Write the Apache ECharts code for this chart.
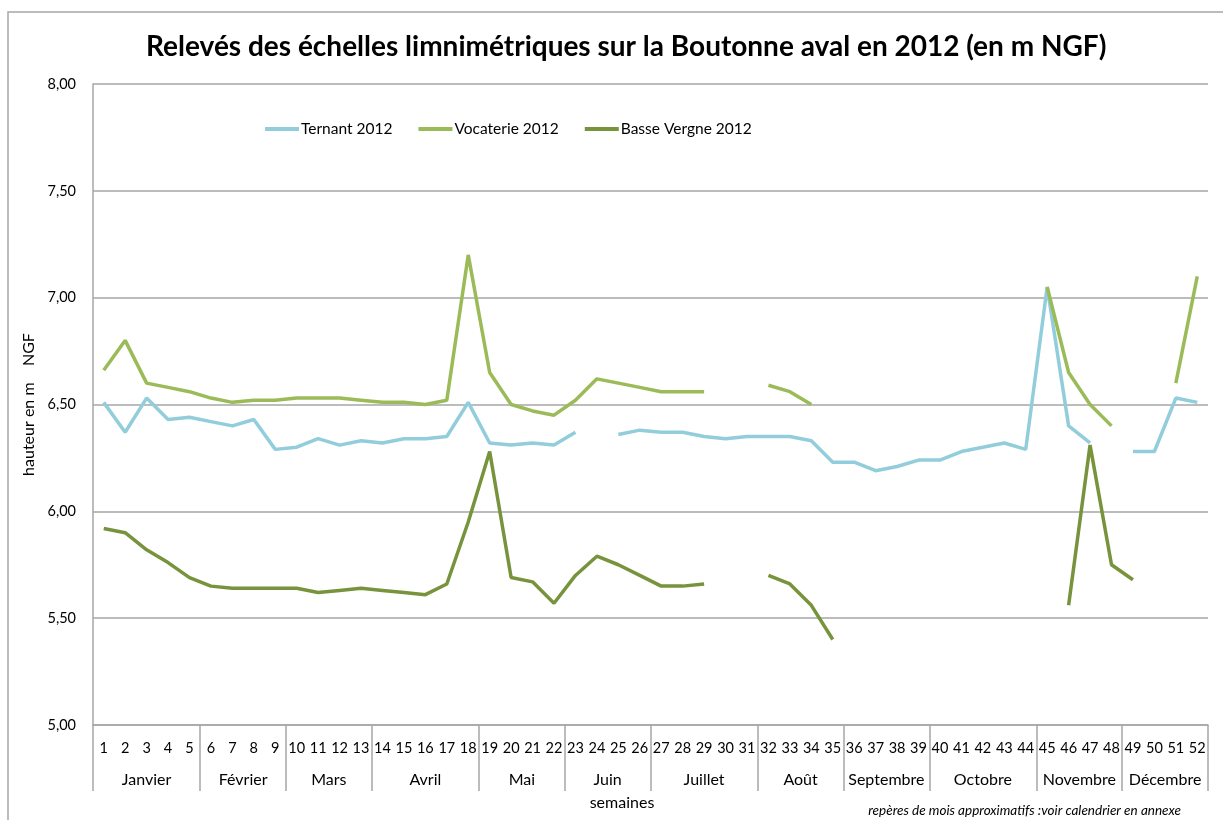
<!DOCTYPE html>
<html>
<head>
<meta charset="utf-8">
<script src="https://cdn.jsdelivr.net/npm/echarts@6/dist/echarts.min.js"></script>
<style>
  html, body { margin: 0; padding: 0; background: #fff; }
  #chart { width: 1223px; height: 820px; }
</style>
</head>
<body>
<div id="chart"></div>
<script>
var weeks = [];
for (var i = 1; i <= 52; i++) weeks.push(String(i));

var months = ['Janvier', 'Février', 'Mars', 'Avril', 'Mai', 'Juin', 'Juillet', 'Août',
              'Septembre', 'Octobre', 'Novembre', 'Décembre'];
// first week index (0-based) of each month group, plus the end
var monthBounds = [0, 5, 9, 13, 18, 22, 26, 31, 35, 39, 44, 48, 52];

var ternant = [6.51, 6.37, 6.53, 6.43, 6.44, 6.42, 6.40, 6.43, 6.29, 6.30,
               6.34, 6.31, 6.33, 6.32, 6.34, 6.34, 6.35, 6.51, 6.32, 6.31,
               6.32, 6.31, 6.37, null, 6.36, 6.38, 6.37, 6.37, 6.35, 6.34,
               6.35, 6.35, 6.35, 6.33, 6.23, 6.23, 6.19, 6.21, 6.24, 6.24,
               6.28, 6.30, 6.32, 6.29, 7.05, 6.40, 6.32, null, 6.28, 6.28,
               6.53, 6.51];

var vocaterie = [6.66, 6.80, 6.60, 6.58, 6.56, 6.53, 6.51, 6.52, 6.52, 6.53,
                 6.53, 6.53, 6.52, 6.51, 6.51, 6.50, 6.52, 7.20, 6.65, 6.50,
                 6.47, 6.45, 6.52, 6.62, 6.60, 6.58, 6.56, 6.56, 6.56, null,
                 null, 6.59, 6.56, 6.50, null, null, null, null, null, null,
                 null, null, null, null, 7.05, 6.65, 6.50, 6.40, null, null,
                 6.60, 7.10];

var basseVergne = [5.92, 5.90, 5.82, 5.76, 5.69, 5.65, 5.64, 5.64, 5.64, 5.64,
                   5.62, 5.63, 5.64, 5.63, 5.62, 5.61, 5.66, 5.95, 6.28, 5.69,
                   5.67, 5.57, 5.70, 5.79, 5.75, 5.70, 5.65, 5.65, 5.66, null,
                   null, 5.70, 5.66, 5.56, 5.40, null, null, null, null, null,
                   null, null, null, null, null, 5.56, 6.31, 5.75, 5.68, null,
                   null, null];

var monthCenters = [];
for (var m = 0; m < months.length; m++) {
    monthCenters.push((monthBounds[m] + monthBounds[m + 1]) / 2);
}

var font = 'Lato, "Liberation Sans", sans-serif';
var gridColor = '#a6a6a6';

var chart = echarts.init(document.getElementById('chart'));
var option = {
    backgroundColor: '#fff',
    animation: false,
    textStyle: { fontFamily: font, color: '#000' },
    title: {
        text: 'Relevés des échelles limnimétriques sur la Boutonne aval en 2012 (en m NGF)',
        left: 141,
        top: 28,
        textStyle: { fontFamily: font, fontSize: 28, fontWeight: 'bold', color: '#000' }
    },
    legend: {
        left: 260,
        top: 116,
        itemWidth: 34,
        itemHeight: 4,
        itemGap: 26,
        icon: 'rect',
        textStyle: { fontFamily: font, fontSize: 15.5, color: '#000', padding: [0, 0, 0, -3] },
        data: ['Ternant 2012', 'Vocaterie 2012', 'Basse Vergne 2012']
    },
    grid: { left: 93, right: 15, top: 84, bottom: 95 },
    xAxis: [
        {
            type: 'category',
            data: weeks,
            boundaryGap: true,
            axisLine: { lineStyle: { color: gridColor, width: 1.5 } },
            axisTick: { show: false },
            axisLabel: { interval: 0, margin: 16, fontSize: 14.5, color: '#000', fontFamily: font }
        },
        {
            type: 'value',
            min: 0,
            max: 52,
            position: 'bottom',
            axisLine: { show: false },
            splitLine: { show: false },
            axisTick: {
                show: true,
                customValues: monthBounds,
                length: 66,
                lineStyle: { color: gridColor, width: 1.5 }
            },
            axisLabel: {
                customValues: monthCenters,
                margin: 47,
                fontSize: 16,
                color: '#000',
                fontFamily: font,
                formatter: function (v) {
                    var idx = monthCenters.indexOf(v);
                    return idx >= 0 ? months[idx] : '';
                }
            }
        }
    ],
    yAxis: {
        type: 'value',
        min: 5,
        max: 8,
        interval: 0.5,
        name: 'hauteur en m    NGF',
        nameLocation: 'middle',
        nameRotate: 90,
        nameGap: 52,
        nameTextStyle: { fontFamily: font, fontSize: 16, color: '#000' },
        axisLine: { show: true, lineStyle: { color: gridColor, width: 1.5 } },
        axisTick: { show: false },
        splitLine: { lineStyle: { color: gridColor, width: 1.5 } },
        axisLabel: {
            margin: 17,
            fontSize: 14.5,
            color: '#000',
            fontFamily: font,
            formatter: function (v) { return v.toFixed(2).replace('.', ','); }
        }
    },
    series: [
        {
            name: 'Ternant 2012',
            type: 'line',
            data: ternant,
            showSymbol: false,
            connectNulls: false,
            color: '#92cddc',
            lineStyle: { width: 3.5, color: '#92cddc' }
        },
        {
            name: 'Vocaterie 2012',
            type: 'line',
            data: vocaterie,
            showSymbol: false,
            connectNulls: false,
            color: '#9bbb59',
            lineStyle: { width: 3.5, color: '#9bbb59' }
        },
        {
            name: 'Basse Vergne 2012',
            type: 'line',
            data: basseVergne,
            showSymbol: false,
            connectNulls: false,
            color: '#77933c',
            lineStyle: { width: 3.5, color: '#77933c' }
        }
    ],
    graphic: [
        {
            type: 'rect',
            shape: { x: 8, y: 12, width: 1240, height: 840 },
            style: { fill: null, stroke: gridColor, lineWidth: 1.5 },
            silent: true
        },
        {
            type: 'text',
            x: 622,
            y: 803,
            style: { text: 'semaines', font: '16px ' + font, fill: '#000', align: 'center', verticalAlign: 'middle' }
        },
        {
            type: 'text',
            x: 1181,
            y: 811,
            style: {
                text: 'repères de mois approximatifs :voir calendrier en annexe',
                font: 'italic 13.5px ' + font, fill: '#000', align: 'right', verticalAlign: 'middle'
            }
        }
    ]
};
chart.setOption(option);
</script>
</body>
</html>
